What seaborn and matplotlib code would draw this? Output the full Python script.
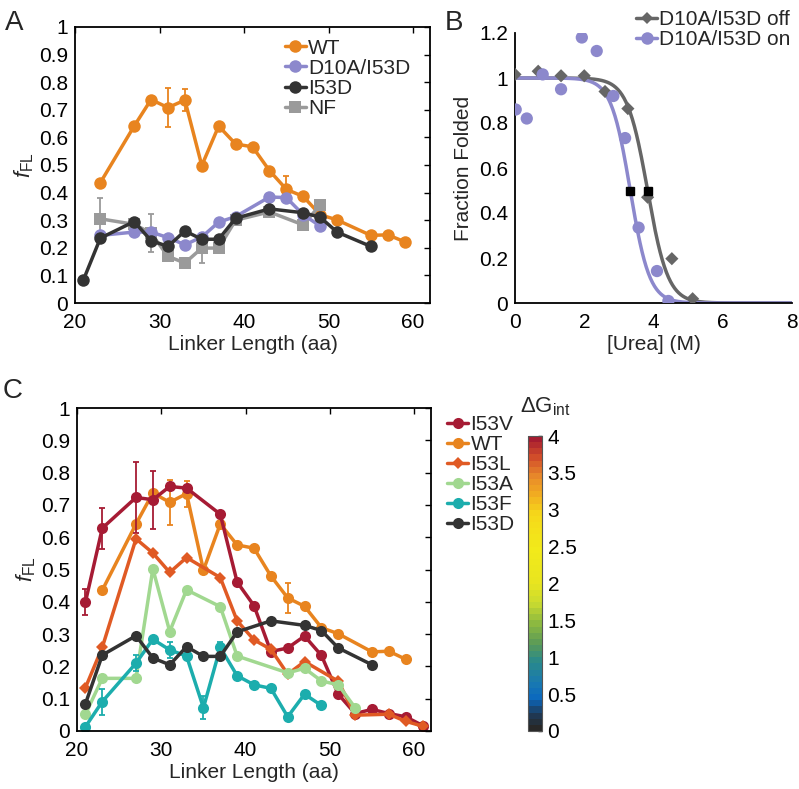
import numpy as np
import seaborn as sns
import matplotlib.pyplot as plt
from matplotlib.colors import LinearSegmentedColormap, Normalize
from matplotlib.cm import ScalarMappable
from matplotlib.lines import Line2D
from matplotlib.ticker import FuncFormatter

sns.set_style("white")
plt.rcParams["font.family"] = ["Liberation Sans", "DejaVu Sans"]
plt.rcParams["mathtext.fontset"] = "custom"
plt.rcParams["mathtext.rm"] = "Liberation Sans"
plt.rcParams["mathtext.it"] = "Liberation Sans:italic"

# ---- panel A / C data (linker length vs f_FL) ----
wt_x = [23, 27, 29, 31, 33, 35, 37, 39, 41, 43, 45, 47, 49, 51, 55, 57, 59]
wt_y = [0.436, 0.641, 0.737, 0.708, 0.735, 0.498, 0.641, 0.576, 0.566, 0.480,
        0.412, 0.386, 0.32, 0.301, 0.245, 0.247, 0.222]
wt_ex = [31, 33, 45]
wt_ey = [0.708, 0.735, 0.412]
wt_err = [0.07, 0.04, 0.047]

d10a_x = [23, 27, 29, 31, 33, 35, 37, 39, 43, 45, 47, 49]
d10a_y = [0.245, 0.257, 0.257, 0.237, 0.211, 0.239, 0.293, 0.313, 0.384, 0.382, 0.32, 0.279]

i53d_x = [21, 23, 27, 29, 31, 33, 35, 37, 39, 43, 47, 49, 51, 55]
i53d_y = [0.084, 0.235, 0.295, 0.226, 0.205, 0.261, 0.231, 0.231, 0.307, 0.341,
          0.327, 0.311, 0.257, 0.205]

nf_x = [23, 27, 29, 31, 33, 35, 37, 39, 43, 47, 49]
nf_y = [0.305, 0.285, 0.253, 0.169, 0.145, 0.199, 0.199, 0.30, 0.33, 0.283, 0.355]
nf_ex = [23, 29, 35]
nf_ey = [0.305, 0.253, 0.199]
nf_err = [0.075, 0.07, 0.055]

i53v_x = [21, 23, 27, 29, 31, 33, 37, 39, 41, 43, 45, 47, 49, 51, 53, 55, 57, 59, 61]
i53v_y = [0.399, 0.628, 0.723, 0.716, 0.757, 0.752, 0.671, 0.461, 0.388, 0.246,
          0.257, 0.294, 0.234, 0.114, 0.054, 0.067, 0.054, 0.044, 0.017]
i53v_ex = [21, 23, 27, 29]
i53v_ey = [0.399, 0.628, 0.723, 0.716]
i53v_err = [0.04, 0.063, 0.11, 0.09]

i53l_x = [21, 23, 27, 29, 31, 33, 37, 39, 41, 43, 45, 47, 51, 53, 57, 59, 61]
i53l_y = [0.134, 0.259, 0.595, 0.551, 0.491, 0.537, 0.475, 0.341, 0.282, 0.253,
          0.176, 0.215, 0.154, 0.049, 0.052, 0.03, 0.015]

i53a_x = [21, 23, 27, 29, 31, 33, 37, 39, 45, 47, 49, 51, 53]
i53a_y = [0.052, 0.163, 0.163, 0.502, 0.308, 0.437, 0.385, 0.232, 0.18, 0.194,
          0.155, 0.143, 0.072]

i53f_x = [21, 23, 27, 29, 31, 33, 35, 37, 39, 41, 43, 45, 47, 49]
i53f_y = [0.013, 0.091, 0.21, 0.284, 0.251, 0.232, 0.072, 0.259, 0.171, 0.143,
          0.132, 0.044, 0.114, 0.079]
i53f_ex = [23, 27, 31, 35, 37]
i53f_ey = [0.091, 0.21, 0.251, 0.072, 0.259]
i53f_err = [0.04, 0.025, 0.025, 0.035, 0.015]

# ---- panel B data (urea melts) ----
off_x = [0.0, 0.67, 1.33, 2.0, 2.6, 3.26, 3.83, 4.53, 5.13]
off_y = [1.016, 1.03, 1.01, 1.01, 0.94, 0.864, 0.47, 0.197, 0.019]
on_x = [0.02, 0.34, 0.8, 1.33, 1.93, 2.36, 2.84, 3.18, 3.57, 4.1, 4.43]
on_y = [0.86, 0.82, 1.016, 0.95, 1.18, 1.12, 0.92, 0.733, 0.335, 0.142, 0.009]
mid_x = [3.33, 3.83]
mid_err = [0.06, 0.05]
# two-state fit parameters: midpoint (M) and steepness
off_cm, off_k = 3.83, 3.4
on_cm, on_k = 3.33, 3.6

c_wt = "#E8841F"
c_d10a = "#8C88CC"
c_i53d = "#333333"
c_nf = "#9A9A9A"
c_i53v = "#A61B34"
c_i53l = "#E05A24"
c_i53a = "#A1D890"
c_i53f = "#1CADAD"
c_off = "#666666"

fs = 15
lw = 2.5
W, H = 799, 789
fig = plt.figure(figsize=(W / 100, H / 100), dpi=100)


def frac(l, b, r, t):
    return [l / W, 1 - b / H, (r - l) / W, (b - t) / H]


def draw(ax, x, y, color, marker="o", ms=8, z=2):
    sns.lineplot(x=x, y=y, ax=ax, color=color, marker=marker, markersize=ms,
                 markeredgecolor=color, markeredgewidth=0, lw=lw, zorder=z)


def errs(ax, x, y, e, color, z=2):
    ax.errorbar(x, y, yerr=e, fmt="none", ecolor=color, elinewidth=1.3,
                capsize=2.5, capthick=1.3, zorder=z)


def style(ax, box=True):
    for s in ax.spines.values():
        s.set_color("black")
        s.set_linewidth(1.3)
    if not box:
        ax.spines["top"].set_visible(False)
        ax.spines["right"].set_visible(False)
    ax.tick_params(direction="in", length=4.5, width=1, labelsize=fs, pad=5,
                   top=box, right=box, colors="black")
    ax.tick_params(axis="x", pad=7)
    ax.yaxis.set_major_formatter(FuncFormatter(lambda v, p: "%g" % round(v, 2)))


def handle(color, marker="o", ms=8):
    return Line2D([], [], color=color, marker=marker, markersize=ms, lw=lw,
                  markeredgewidth=0)


leg_kw = dict(frameon=False, fontsize=fs, handlelength=1.0, handletextpad=0.12,
              labelspacing=0.05, borderpad=0.1, borderaxespad=0)

# ---- A ----
axA = fig.add_axes(frac(75, 303, 430, 27))
errs(axA, wt_ex, wt_ey, wt_err, c_wt)
draw(axA, wt_x, wt_y, c_wt, ms=9)
errs(axA, nf_ex, nf_ey, nf_err, c_nf)
draw(axA, nf_x, nf_y, c_nf, marker="s", ms=8)
draw(axA, d10a_x, d10a_y, c_d10a, ms=9)
draw(axA, i53d_x, i53d_y, c_i53d, ms=9, z=3)
axA.set_xlim(20, 62)
axA.set_ylim(0, 1)
axA.set_xticks([20, 30, 40, 50, 60])
axA.set_yticks(np.arange(0, 1.01, 0.1))
style(axA)
axA.set_xlabel("Linker Length (aa)", fontsize=fs, labelpad=2)
axA.set_ylabel(r"$f_{\rm FL}$", fontsize=fs + 1, labelpad=2)
axA.legend([handle(c_wt, ms=9), handle(c_d10a, ms=9), handle(c_i53d, ms=9),
            handle(c_nf, "s", 8)],
           ["WT", "D10A/I53D", "I53D", "NF"], loc="upper left",
           bbox_to_anchor=(0.585, 0.965), **leg_kw)
fig.text(5 / W, 1 - 30 / H, "A", fontsize=20)

# ---- B ----
axB = fig.add_axes(frac(515, 303, 792, 33))
ux = np.linspace(0, 8, 400)
sns.lineplot(x=ux, y=1 / (1 + np.exp(off_k * (ux - off_cm))), ax=axB,
             color=c_off, lw=lw, zorder=2)
sns.lineplot(x=ux, y=1 / (1 + np.exp(on_k * (ux - on_cm))), ax=axB,
             color=c_d10a, lw=lw, zorder=2)
sns.scatterplot(x=off_x, y=off_y, ax=axB, color=c_off, marker="D", s=45,
                edgecolor="none", zorder=3)
sns.scatterplot(x=on_x, y=on_y, ax=axB, color=c_d10a, marker="o", s=78,
                edgecolor="none", zorder=3)
axB.errorbar(mid_x, [0.5, 0.5], xerr=mid_err, fmt="s", color="black",
             markersize=6, elinewidth=1.5, capsize=0, zorder=4)
axB.set_xlim(0, 8)
axB.set_ylim(0, 1.2)
axB.set_xticks([0, 2, 4, 6, 8])
axB.set_yticks([0, 0.2, 0.4, 0.6, 0.8, 1.0, 1.2])
style(axB, box=False)
axB.set_xlabel("[Urea] (M)", fontsize=fs, labelpad=2)
axB.set_ylabel("Fraction Folded", fontsize=fs, labelpad=4)
fig.legend([handle(c_off, "D", 6.5), handle(c_d10a, "o", 9)],
           ["D10A/I53D off", "D10A/I53D on"], loc="upper left",
           bbox_to_anchor=(634 / W, 1 - 8 / H), **leg_kw)
fig.text(445 / W, 1 - 30 / H, "B", fontsize=20)

# ---- C ----
axC = fig.add_axes(frac(77, 731, 431, 408))
errs(axC, wt_ex, wt_ey, wt_err, c_wt)
draw(axC, wt_x, wt_y, c_wt)
errs(axC, i53v_ex, i53v_ey, i53v_err, c_i53v)
draw(axC, i53v_x, i53v_y, c_i53v)
draw(axC, i53l_x, i53l_y, c_i53l, marker="D", ms=6.5)
draw(axC, i53a_x, i53a_y, c_i53a)
errs(axC, i53f_ex, i53f_ey, i53f_err, c_i53f)
draw(axC, i53f_x, i53f_y, c_i53f)
draw(axC, i53d_x, i53d_y, c_i53d, z=3)
axC.set_xlim(20, 62)
axC.set_ylim(0, 1)
axC.set_xticks([20, 30, 40, 50, 60])
axC.set_yticks(np.arange(0, 1.01, 0.1))
style(axC)
axC.set_xlabel("Linker Length (aa)", fontsize=fs, labelpad=2)
axC.set_ylabel(r"$f_{\rm FL}$", fontsize=fs + 1, labelpad=2)
axC.legend([handle(c_i53v), handle(c_wt), handle(c_i53l, "D", 6.5),
            handle(c_i53a), handle(c_i53f), handle(c_i53d)],
           ["I53V", "WT", "I53L", "I53A", "I53F", "I53D"], loc="upper left",
           bbox_to_anchor=(1.04, 0.985), **leg_kw)
fig.text(3 / W, 1 - 398 / H, "C", fontsize=20)

# ---- colour bar ----
cb_colors = ["#282828", "#1F3A58", "#0A68BE", "#1A7AB0", "#2A8A8A", "#5A9A58",
             "#8AB840", "#C8DA30", "#E8E520", "#F2EA1A", "#F5D81A", "#F2B020",
             "#E8892A", "#D04A2A", "#A51C30"]
cb_pos = [0.0, 0.05, 0.1, 0.16, 0.23, 0.29, 0.36, 0.43, 0.5, 0.62, 0.74, 0.8,
          0.87, 0.94, 1.0]
cmap = LinearSegmentedColormap.from_list("dg", list(zip(cb_pos, cb_colors)), N=48)
cax = fig.add_axes(frac(528, 731, 542, 436))
cb = fig.colorbar(ScalarMappable(norm=Normalize(0, 4), cmap=cmap), cax=cax)
cb.set_ticks(np.arange(0, 4.01, 0.5))
cb.ax.yaxis.set_major_formatter(FuncFormatter(lambda v, p: "%g" % v))
cb.ax.tick_params(direction="in", length=3, width=1, labelsize=fs, pad=4,
                  colors="black")
cb.outline.set_edgecolor("#555555")
cb.outline.set_linewidth(0.8)
fig.text(520 / W, 1 - 412 / H, r"$\Delta$G$_{\rm int}$", fontsize=fs + 1)

fig.savefig("out.png", dpi=100)
